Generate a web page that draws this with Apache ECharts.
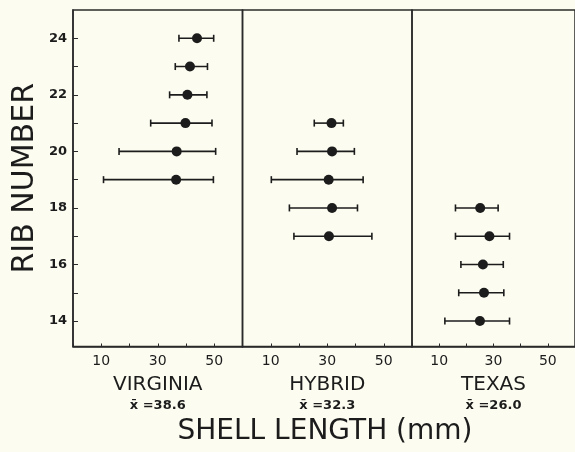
<!DOCTYPE html>
<html>
<head>
<meta charset="utf-8">
<script src="https://cdn.jsdelivr.net/npm/echarts@6/dist/echarts.min.js"></script>
<style>
html, body { margin: 0; background: #fcfcf1; }
#main { width: 575px; height: 452px; }
</style>
</head>
<body>
<div id="main"></div>
<script>
// panels
var regions = ['VIRGINIA', 'HYBRID', 'TEXAS'];
var regionMeans = ['38.6', '32.3', '26.0'];

// rib number, low end, mean, high end (shell length, mm)
var virginiaRibs = [24, 23, 22, 21, 20, 19];
var virginiaLow  = [37.5, 36.2, 34.2, 27.5, 16.3, 10.8];
var virginiaMean = [43.9, 41.4, 40.5, 39.8, 36.7, 36.5];
var virginiaHigh = [49.8, 47.6, 47.4, 49.2, 50.5, 49.7];

var hybridRibs = [21, 20, 19, 18, 17];
var hybridLow  = [25.4, 19.3, 10.2, 16.6, 18.2];
var hybridMean = [31.5, 31.7, 30.5, 31.7, 30.6];
var hybridHigh = [35.7, 39.6, 42.7, 40.7, 45.8];

var texasRibs = [18, 17, 16, 15, 14];
var texasLow  = [16.0, 16.0, 18.0, 17.2, 12.1];
var texasMean = [25.1, 28.5, 26.1, 26.5, 25.0];
var texasHigh = [31.7, 35.9, 33.6, 33.8, 35.9];

var ribTicks = [14, 15, 16, 17, 18, 19, 20, 21, 22, 23, 24];
var ribLabels = [14, 16, 18, 20, 22, 24];
var lengthLabels = [10, 30, 50];

var panels = [
    { ribs: virginiaRibs, low: virginiaLow, mean: virginiaMean, high: virginiaHigh },
    { ribs: hybridRibs, low: hybridLow, mean: hybridMean, high: hybridHigh },
    { ribs: texasRibs, low: texasLow, mean: texasMean, high: texasHigh }
];

var ink = '#1c1c1c';
var font = 'DejaVu Sans';
var lefts = [73, 242.5, 412];

function errorBar(params, api) {
    var y = api.value(0);
    var p1 = api.coord([api.value(1), y]);
    var p2 = api.coord([api.value(2), y]);
    var h = 3.5;
    var st = { stroke: ink, lineWidth: 1.6 };
    return {
        type: 'group',
        children: [
            { type: 'line', shape: { x1: p1[0], y1: p1[1], x2: p2[0], y2: p2[1] }, style: st },
            { type: 'line', shape: { x1: p1[0], y1: p1[1] - h, x2: p1[0], y2: p1[1] + h }, style: st },
            { type: 'line', shape: { x1: p2[0], y1: p2[1] - h, x2: p2[0], y2: p2[1] + h }, style: st }
        ]
    };
}

var grids = [], xAxes = [], yAxes = [], series = [];

panels.forEach(function (p, i) {
    grids.push({
        left: lefts[i], top: 10, width: 169.5, height: 336.5,
        show: true, borderColor: '#2a2a2a', borderWidth: 1.5
    });
    xAxes.push({
        gridIndex: i, type: 'value', min: 0, max: 60, interval: 10,
        splitLine: { show: false },
        axisLine: { lineStyle: { color: '#2a2a2a', width: 1.5 } },
        axisTick: { inside: true, length: 3, lineStyle: { color: '#2a2a2a' } },
        axisLabel: { customValues: lengthLabels, color: '#1c1c1c', fontFamily: font, fontSize: 14, margin: 8 },
        name: regions[i] + '\n{m|x\u0304 =' + regionMeans[i] + '}',
        nameLocation: 'middle', nameGap: 21,
        nameTextStyle: {
            color: '#1c1c1c', fontFamily: font, fontSize: 20, lineHeight: 22,
            rich: { m: { fontFamily: font, fontSize: 13, fontWeight: 'bold', lineHeight: 20, color: '#1c1c1c' } }
        }
    });
    yAxes.push({
        gridIndex: i, type: 'value', min: 13.1, max: 25,
        show: i === 0,
        splitLine: { show: false },
        axisLine: { show: true, lineStyle: { color: '#2a2a2a', width: 1.5 } },
        axisTick: { inside: true, length: 5, customValues: ribTicks, lineStyle: { color: '#2a2a2a' } },
        axisLabel: { customValues: ribLabels, color: '#1c1c1c', fontFamily: font, fontSize: 13, fontWeight: 'bold', margin: 6 },
        name: i === 0 ? 'RIB NUMBER' : '',
        nameLocation: 'middle', nameGap: 33,
        nameTextStyle: { color: '#1c1c1c', fontFamily: font, fontSize: 30 }
    });
    series.push({
        type: 'custom', xAxisIndex: i, yAxisIndex: i,
        renderItem: errorBar,
        encode: { x: [1, 2], y: 0 },
        data: p.ribs.map(function (r, k) { return [r, p.low[k], p.high[k]]; }),
        silent: true
    });
    series.push({
        type: 'scatter', xAxisIndex: i, yAxisIndex: i,
        symbolSize: 10, itemStyle: { color: ink, opacity: 1 },
        data: p.ribs.map(function (r, k) { return [p.mean[k], r]; }),
        silent: true
    });
});

var myChart = echarts.init(document.getElementById('main'));
myChart.setOption({
    backgroundColor: '#fcfcf1',
    animation: false,
    grid: grids,
    xAxis: xAxes,
    yAxis: yAxes,
    series: series,
    graphic: [{
        type: 'text', x: 325, y: 432,
        style: {
            text: 'SHELL LENGTH (mm)', fill: '#1c1c1c',
            font: '28px "DejaVu Sans"', textAlign: 'center', textVerticalAlign: 'middle'
        }
    }]
});
</script>
</body>
</html>
